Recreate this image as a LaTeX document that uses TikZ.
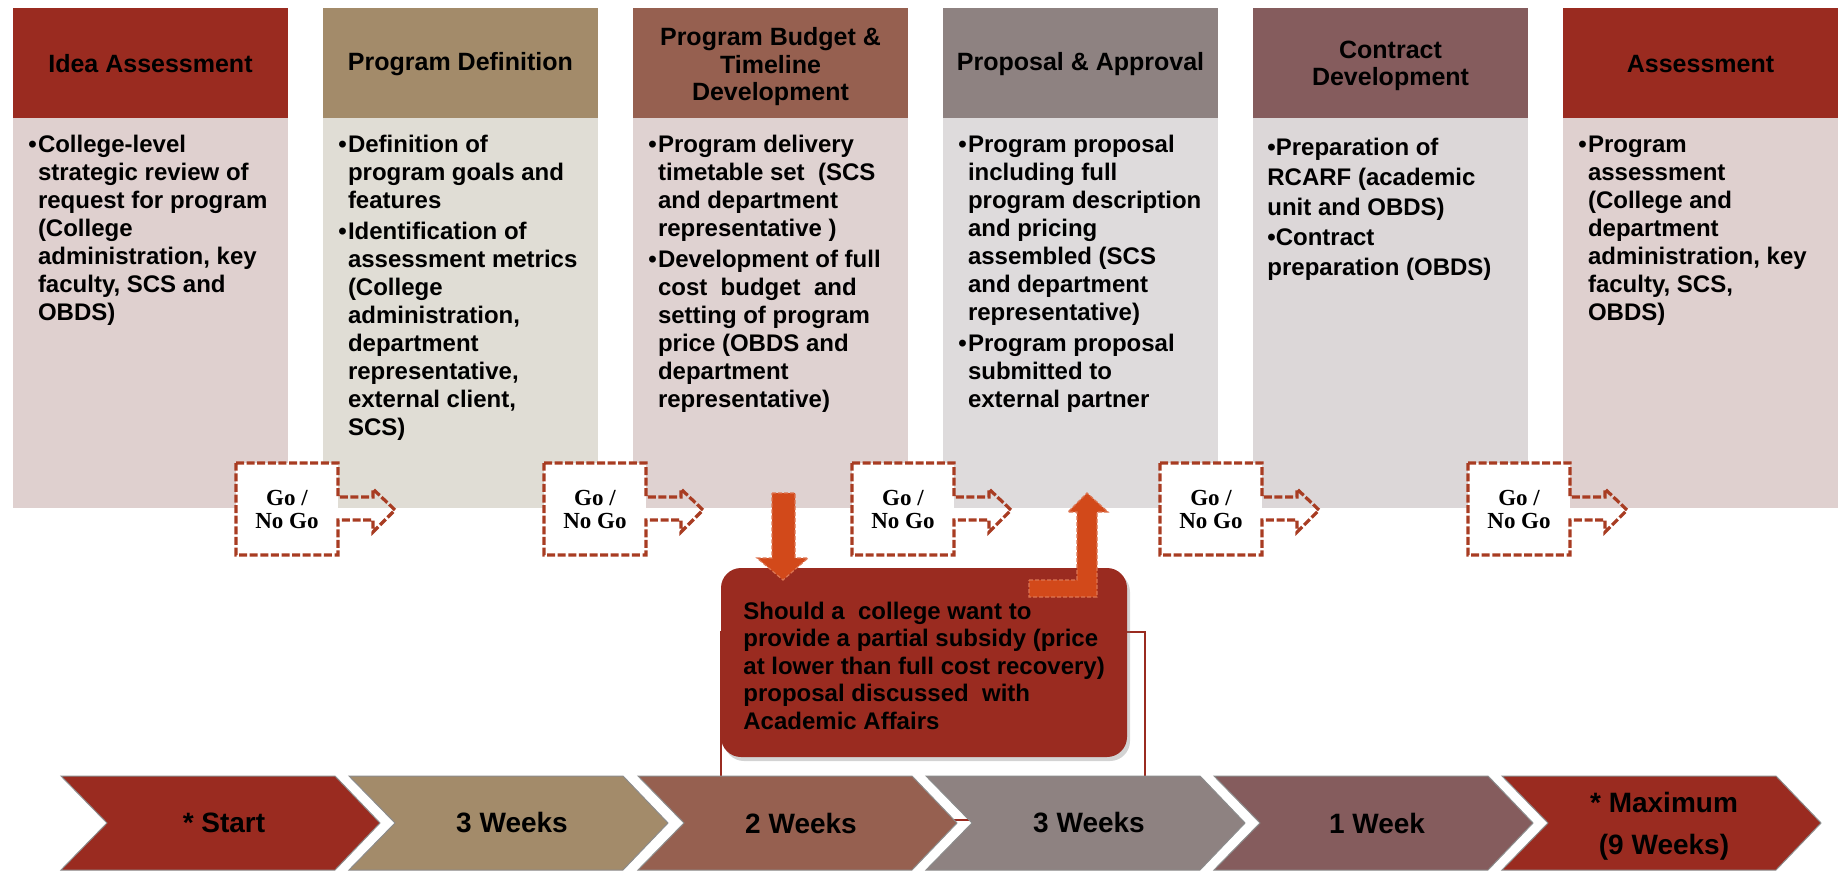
\documentclass[tikz,border=0pt]{standalone}
\usepackage{fontspec}
\setmainfont{Liberation Sans}
\newfontfamily\gofont{Liberation Serif}
\usetikzlibrary{shadows}

\definecolor{brick}{HTML}{9A2B20}
\definecolor{khaki}{HTML}{A38B6A}
\definecolor{clay}{HTML}{966050}
\definecolor{ash}{HTML}{8E8281}
\definecolor{plum}{HTML}{855C5D}
\definecolor{brickbg}{HTML}{DFD0CF}
\definecolor{khakibg}{HTML}{E0DDD5}
\definecolor{claybg}{HTML}{DFD2D1}
\definecolor{ashbg}{HTML}{DEDBDC}
\definecolor{plumbg}{HTML}{DCD7D8}
\definecolor{rust}{HTML}{A83C22}
\definecolor{flame}{HTML}{D2491A}

% bullet list with hanging indent
\newcommand\notes[1]{\begin{tabular}[t]{@{}l@{\hspace{.6pt}}l@{}}#1\end{tabular}}

\begin{document}
\begin{tikzpicture}[x = 0.5pt, y = -0.5pt,
    headtext/.style = {font=\bfseries\fontsize{12.5}{13.75}\selectfont, align=center, inner sep=0pt},
    bodytext/.style = {font=\bfseries\fontsize{12}{14}\selectfont, anchor=base west, inner sep=0pt},
    gotext/.style = {font=\gofont\bfseries\fontsize{11.5}{11.5}\selectfont, align=center, inner sep=0pt},
    gobox/.style = {draw=rust, line width=1.6pt, dash pattern=on 4pt off 1.3pt},
    bigarrow/.style = {fill=flame, draw=flame!75!white, line width=0.6pt, dash pattern=on 2pt off 1pt},
    chevron/.style = {draw=black!45, line width=0.5pt},
    weektext/.style = {font=\bfseries\fontsize{14}{21}\selectfont, align=center, inner sep=0pt}]
    \useasboundingbox (0,0) rectangle (1841,871);

    % column bodies
    \fill[brickbg] (13,118) rectangle (288,508);
    \fill[khakibg] (323,118) rectangle (598,508);
    \fill[claybg] (633,118) rectangle (908,508);
    \fill[ashbg] (943,118) rectangle (1218,508);
    \fill[plumbg] (1253,118) rectangle (1528,508);
    \fill[brickbg] (1563,118) rectangle (1838,508);

    % column heads
    \fill[brick] (13,8) rectangle (288,118);
    \fill[khaki] (323,8) rectangle (598,118);
    \fill[clay] (633,8) rectangle (908,118);
    \fill[ash] (943,8) rectangle (1218,118);
    \fill[plum] (1253,8) rectangle (1528,118);
    \fill[brick] (1563,8) rectangle (1838,118);

    \node[headtext] (idea) at (150.5,64) {Idea Assessment};
    \node[headtext] (definition) at (460.5,64) {Program Definition};
    \node[headtext] (budget) at (770.5,67) {Program Budget \&\\Timeline\\Development};
    \node[headtext] (proposal) at (1080.5,64) {Proposal \& Approval};
    \node[headtext] (contract) at (1390.5,66) {Contract\\Development};
    \node[headtext] (assessment) at (1700.5,64) {Assessment};

    \node[bodytext] (ideanotes) at (28,153) {\notes{
        \textbullet & College-level\\
        & strategic review of\\
        & request for program\\
        & (College\\
        & administration, key\\
        & faculty, SCS and\\
        & OBDS)}};
    \node[bodytext] (definitionnotes) at (338,153) {\notes{
        \textbullet & Definition of\\
        & program goals and\\
        & features\\[1.5pt]
        \textbullet & Identification of\\
        & assessment metrics\\
        & (College\\
        & administration,\\
        & department\\
        & representative,\\
        & external client,\\
        & SCS)}};
    \node[bodytext] (budgetnotes) at (648,153) {\notes{
        \textbullet & Program delivery\\
        & timetable set\ \ (SCS\\
        & and department\\
        & representative )\\[1.5pt]
        \textbullet & Development of full\\
        & cost\ \ budget\ \ and\\
        & setting of program\\
        & price (OBDS and\\
        & department\\
        & representative)}};
    \node[bodytext] (proposalnotes) at (958,153) {\notes{
        \textbullet & Program proposal\\
        & including full\\
        & program description\\
        & and pricing\\
        & assembled (SCS\\
        & and department\\
        & representative)\\[1.5pt]
        \textbullet & Program proposal\\
        & submitted to\\
        & external partner}};
    \node[bodytext, font=\bfseries\fontsize{12}{15}\selectfont] (contractnotes) at (1267,156) {%
        \begin{tabular}[t]{@{}l@{}}
        \textbullet Preparation of\\
        RCARF (academic\\
        unit and OBDS)\\
        \textbullet Contract\\
        preparation (OBDS)
        \end{tabular}};
    \node[bodytext] (assessmentnotes) at (1578,153) {\notes{
        \textbullet & Program\\
        & assessment\\
        & (College and\\
        & department\\
        & administration, key\\
        & faculty, SCS,\\
        & OBDS)}};

    % frame linking the side step to the timeline
    \draw[brick, line width=1pt] (721,632) rectangle (1145,820);

    % side step
    \fill[brick, rounded corners=10pt,
        drop shadow={shadow xshift=1.5pt, shadow yshift=-2pt, opacity=0.35}]
        (721,568) rectangle (1127,757);
    \node[bodytext, font=\bfseries\fontsize{12}{13.75}\selectfont] (subsidy) at (743,619) {%
        \begin{tabular}[t]{@{}l@{}}
        Should a\ \ college want to\\
        provide a partial subsidy (price\\
        at lower than full cost recovery)\\
        proposal discussed\ \ with\\
        Academic Affairs
        \end{tabular}};

    % out to the side step and back
    \draw[bigarrow]
    (772,493) -- (795,493) -- (795,558) -- (808,558) -- (783,580) -- (757,558) -- (772,558) -- cycle;
    \draw[bigarrow]
    (1029,580) -- (1077,580) -- (1077,512) -- (1068,512) -- (1087,493) -- (1108,512) -- (1097,512)
    -- (1097,597) -- (1029,597) -- cycle;

    % go / no go gates
    \fill[white] (236,463) rectangle ++(102,92);
    \draw[gobox]
    (236,463) -- ++(102,0) -- ++(0,34) -- ++(35,0) -- ++(0,-8) -- ++(22,21) -- ++(-22,22)
    -- ++(0,-12) -- ++(-35,0) -- ++(0,35) -- ++(-102,0) -- cycle;
    \node[gotext] (go1) at (287,509) {Go /\\No Go};

    \fill[white] (544,463) rectangle ++(102,92);
    \draw[gobox]
    (544,463) -- ++(102,0) -- ++(0,34) -- ++(35,0) -- ++(0,-8) -- ++(22,21) -- ++(-22,22)
    -- ++(0,-12) -- ++(-35,0) -- ++(0,35) -- ++(-102,0) -- cycle;
    \node[gotext] (go2) at (595,509) {Go /\\No Go};

    \fill[white] (852,463) rectangle ++(102,92);
    \draw[gobox]
    (852,463) -- ++(102,0) -- ++(0,34) -- ++(35,0) -- ++(0,-8) -- ++(22,21) -- ++(-22,22)
    -- ++(0,-12) -- ++(-35,0) -- ++(0,35) -- ++(-102,0) -- cycle;
    \node[gotext] (go3) at (903,509) {Go /\\No Go};

    \fill[white] (1160,463) rectangle ++(102,92);
    \draw[gobox]
    (1160,463) -- ++(102,0) -- ++(0,34) -- ++(35,0) -- ++(0,-8) -- ++(22,21) -- ++(-22,22)
    -- ++(0,-12) -- ++(-35,0) -- ++(0,35) -- ++(-102,0) -- cycle;
    \node[gotext] (go4) at (1211,509) {Go /\\No Go};

    \fill[white] (1468,463) rectangle ++(102,92);
    \draw[gobox]
    (1468,463) -- ++(102,0) -- ++(0,34) -- ++(35,0) -- ++(0,-8) -- ++(22,21) -- ++(-22,22)
    -- ++(0,-12) -- ++(-35,0) -- ++(0,35) -- ++(-102,0) -- cycle;
    \node[gotext] (go5) at (1519,509) {Go /\\No Go};

    % timeline
    \draw[chevron, fill=brick]
    (61,776) -- ++(274,0) -- ++(45,47) -- ++(-45,47) -- ++(-274,0) -- ++(46,-47) -- cycle;
    \draw[chevron, fill=khaki]
    (349,776) -- ++(274,0) -- ++(45,47) -- ++(-45,47) -- ++(-274,0) -- ++(46,-47) -- cycle;
    \draw[chevron, fill=clay]
    (638,776) -- ++(274,0) -- ++(45,47) -- ++(-45,47) -- ++(-274,0) -- ++(46,-47) -- cycle;
    \draw[chevron, fill=ash]
    (926,776) -- ++(274,0) -- ++(45,47) -- ++(-45,47) -- ++(-274,0) -- ++(46,-47) -- cycle;
    \draw[chevron, fill=plum]
    (1214,776) -- ++(274,0) -- ++(45,47) -- ++(-45,47) -- ++(-274,0) -- ++(46,-47) -- cycle;
    \draw[chevron, fill=brick]
    (1502,776) -- ++(274,0) -- ++(45,47) -- ++(-45,47) -- ++(-274,0) -- ++(46,-47) -- cycle;

    \node[weektext] (start) at (224,823) {* Start};
    \node[weektext] (weeksA) at (512,823) {3 Weeks};
    \node[weektext] (weeksB) at (801,823) {2 Weeks};
    \node[weektext] (weeksC) at (1089,823) {3 Weeks};
    \node[weektext] (weeksD) at (1377,823) {1 Week};
    \node[weektext] (maximum) at (1664,826) {* Maximum\\(9 Weeks)};
\end{tikzpicture}
\end{document}
